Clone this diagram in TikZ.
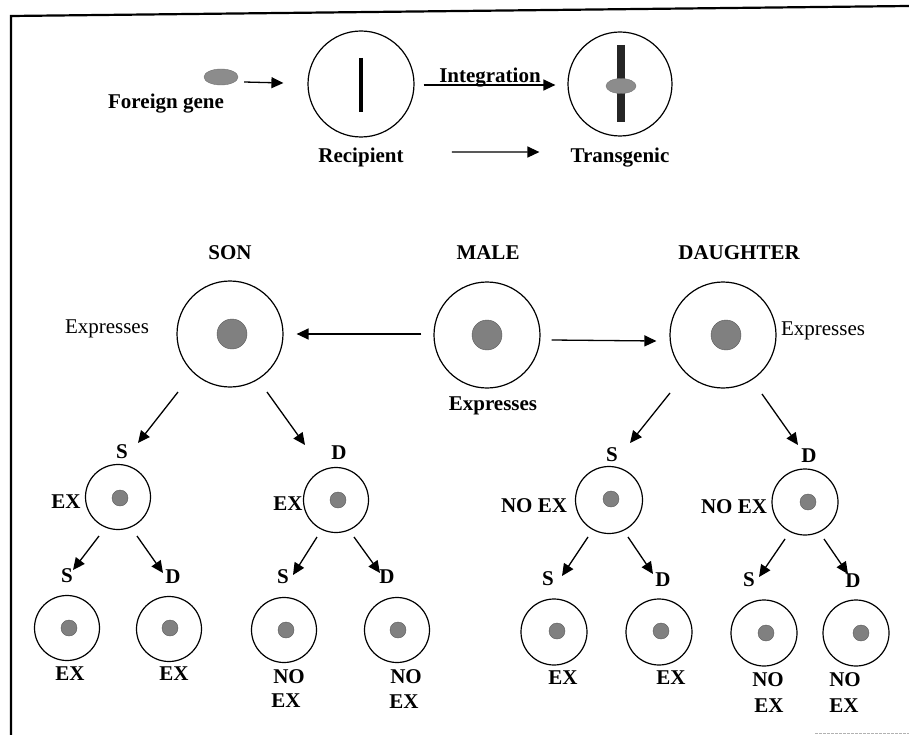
\documentclass[tikz,border=0pt]{standalone}
\usepackage{fontspec}
\setmainfont{Liberation Serif}
\usetikzlibrary{arrows.meta,shapes.geometric}
\begin{document}
\begin{tikzpicture}[x=1pt,y=-1pt,
  cell/.style={circle,draw,line width=1.2pt,inner sep=0pt},
  bigcell/.style={cell,minimum size=106pt},
  smallcell/.style={cell,minimum size=65pt},
  bigdot/.style={circle,fill=black!50,draw=black!65,line width=0.4pt,minimum size=30pt,inner sep=0pt},
  smalldot/.style={circle,fill=black!50,draw=black!65,line width=0.4pt,minimum size=16pt,inner sep=0pt},
  gene/.style={ellipse,fill=black!45,draw=black!55,line width=0.4pt,inner sep=0pt},
  lab/.style={font=\fontsize{21}{23}\selectfont\bfseries,inner sep=0pt,anchor=base},
  rlab/.style={font=\fontsize{21}{23}\selectfont,inner sep=0pt,anchor=base},
  arr/.style={-{Triangle[length=12pt,width=11pt]},line width=1.3pt},
]
\useasboundingbox (0,0) rectangle (909,735);
\fill[white] (0,0) rectangle (909,735);
% frame
\draw[line width=2.2pt] (11,735) -- (11,16) -- (909,6);
\draw[black!30,line width=0.8pt,dash pattern=on 3pt off 1pt] (815,733) -- (909,733);

% ---------- top row ----------
\node[gene,minimum width=34pt,minimum height=16pt] (fg) at (221,77) {};
\node[lab] (fgl) at (166,109) {Foreign gene};
\node[bigcell] (rec) at (361,84) {};
\draw[line width=4pt] (361,58) -- (361,112);
\node[lab] (recl) at (361,163) {Recipient};
\node[bigcell,minimum size=104pt] (tr) at (620,84) {};
\draw[line width=8pt,black!85] (621,45) -- (621,122);
\node[gene,minimum width=30pt,minimum height=15pt] (ins) at (621,86) {};
\node[lab] (trl) at (620,163) {Transgenic};
\node[lab] (intl) at (490,83) {Integration};
\draw[arr] ([shift={(6,5)}]fg.east) -- ([shift={(-24,-1)}]rec.west);
\draw[arr] ([shift={(9,1)}]rec.east) -- ([shift={(-12,1)}]tr.west);
\draw[arr] ([shift={(48,-6)}]recl.east) -- ([shift={(-31,-6)}]trl.west);

% ---------- middle row ----------
\node[lab] (sonl) at (230,259) {SON};
\node[lab] (malel) at (488,259) {MALE};
\node[lab] (daul) at (739,259) {DAUGHTER};
\node[bigcell] (son) at (230,334) {};
\node[bigdot] (sondot) at (232,334) {};
\node[bigcell] (male) at (487,335) {};
\node[bigdot] (maledot) at (487,335) {};
\node[bigcell] (dau) at (723,335) {};
\node[bigdot] (daudot) at (726,335) {};
\node[rlab] (sonex) at (107,333) {Expresses};
\node[rlab] (dauex) at (823,335) {Expresses};
\node[lab] (maleex) at (493,410) {Expresses};
\draw[arr] ([shift={(-12,-1)}]male.west) -- ([shift={(13,0)}]son.east);
\draw[arr] ([shift={(11,5)}]male.east) -- ([shift={(-13,6)}]dau.west);

% ---------- second generation ----------
\node[lab] (sSl) at (122,458) {S};
\node[lab] (sDl) at (339,459) {D};
\node[lab] (dSl) at (612,461) {S};
\node[lab] (dDl) at (809,462) {D};
\node[smallcell] (sS) at (118,497) {};
\node[smalldot] at (120,498) {};
\node[smallcell] (sD) at (336,500) {};
\node[smalldot] at (338,500) {};
\node[smallcell,minimum size=67pt] (dS) at (609,500) {};
\node[smalldot] at (611,499) {};
\node[smallcell,minimum size=66pt] (dD) at (805,502) {};
\node[smalldot] at (808,502) {};
\node[lab] (sSex) at (66,508) {EX};
\node[lab] (sDex) at (288,510) {EX};
\node[lab] (dSex) at (534,512) {NO EX};
\node[lab] (dDex) at (734,513) {NO EX};

\coordinate (a1) at (178,392); \coordinate (b1) at (138,443);
\coordinate (a2) at (267,392); \coordinate (b2) at (305,445);
\coordinate (a3) at (670,393); \coordinate (b3) at (630,443);
\coordinate (a4) at (762,394); \coordinate (b4) at (798,445);
\draw[arr] (a1) -- (b1);
\draw[arr] (a2) -- (b2);
\draw[arr] (a3) -- (b3);
\draw[arr] (a4) -- (b4);

% ---------- third generation ----------
\node[lab] at (67,582) {S};
\node[lab] at (173,583) {D};
\node[lab] at (283,583) {S};
\node[lab] at (387,583) {D};
\node[lab] at (548,585) {S};
\node[lab] at (663,586) {D};
\node[lab] at (749,586) {S};
\node[lab] at (853,587) {D};

\node[smallcell] (g1) at (67,628) {};  \node[smalldot] at (69,628) {};
\node[smallcell] (g2) at (169,629) {}; \node[smalldot] at (170,628) {};
\node[smallcell] (g3) at (284,630) {}; \node[smalldot] at (286,630) {};
\node[smallcell] (g4) at (397,630) {}; \node[smalldot] at (398,630) {};
\node[smallcell,minimum size=66pt] (g5) at (554,632) {}; \node[smalldot] at (557,631) {};
\node[smallcell,minimum size=66pt] (g6) at (659,632) {}; \node[smalldot] at (661,631) {};
\node[smallcell,minimum size=66pt] (g7) at (764,633) {}; \node[smalldot] at (766,633) {};
\node[smallcell,minimum size=66pt] (g8) at (856,633) {}; \node[smalldot] at (861,633) {};

\coordinate (c1) at (99,536);  \coordinate (d1) at (73,570);
\coordinate (c2) at (137,536); \coordinate (d2) at (163,573);
\coordinate (c3) at (317,537); \coordinate (d3) at (293,575);
\coordinate (c4) at (354,537); \coordinate (d4) at (380,573);
\coordinate (c5) at (588,537); \coordinate (d5) at (562,576);
\coordinate (c6) at (628,537); \coordinate (d6) at (653,574);
\coordinate (c7) at (785,539); \coordinate (d7) at (759,577);
\coordinate (c8) at (824,539); \coordinate (d8) at (848,574);
\foreach \i in {1,...,8} {\draw[arr] (c\i) -- (d\i);}

\node[lab] at (70,680) {EX};
\node[lab] at (174,680) {EX};
\node[lab] at (289,683) {NO};
\node[lab] at (286,707) {EX};
\node[lab] at (406,683) {NO};
\node[lab] at (404,708) {EX};
\node[lab] at (563,684) {EX};
\node[lab] at (671,684) {EX};
\node[lab] at (768,686) {NO};
\node[lab] at (769,712) {EX};
\node[lab] at (845,686) {NO};
\node[lab] at (844,712) {EX};
\end{tikzpicture}
\end{document}
